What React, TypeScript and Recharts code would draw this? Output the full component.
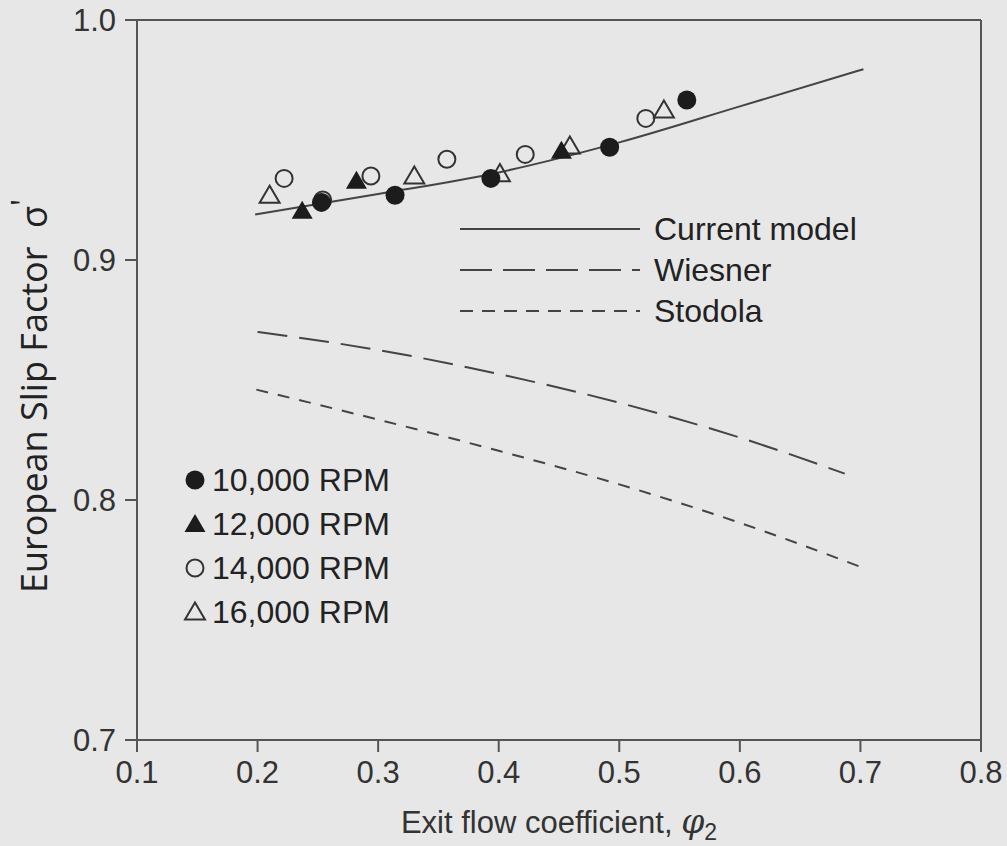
import React from 'react';
import { ComposedChart, Line, Scatter, XAxis, YAxis, ReferenceLine } from 'recharts';

const xTicks = [0.1, 0.2, 0.3, 0.4, 0.5, 0.6, 0.7, 0.8];
const yTicks = [0.7, 0.8, 0.9, 1.0];

const currentModel = [
  { x: 0.198, y: 0.919 },
  { x: 0.3, y: 0.9275 },
  { x: 0.4, y: 0.9365 },
  { x: 0.5, y: 0.949 },
  { x: 0.6, y: 0.964 },
  { x: 0.7025, y: 0.9795 },
];
const wiesner = [
  { x: 0.2, y: 0.870 },
  { x: 0.3, y: 0.8625 },
  { x: 0.4, y: 0.8525 },
  { x: 0.5, y: 0.8405 },
  { x: 0.6, y: 0.826 },
  { x: 0.687, y: 0.811 },
];
const stodola = [
  { x: 0.199, y: 0.846 },
  { x: 0.3, y: 0.8335 },
  { x: 0.4, y: 0.8205 },
  { x: 0.5, y: 0.8065 },
  { x: 0.6, y: 0.7905 },
  { x: 0.7035, y: 0.7715 },
];
const rpm10000 = [
  { x: 0.253, y: 0.924 },
  { x: 0.314, y: 0.927 },
  { x: 0.3935, y: 0.934 },
  { x: 0.492, y: 0.947 },
  { x: 0.556, y: 0.9667 },
];
const rpm12000 = [
  { x: 0.237, y: 0.9205 },
  { x: 0.282, y: 0.933 },
  { x: 0.452, y: 0.9455 },
];
const rpm14000 = [
  { x: 0.222, y: 0.934 },
  { x: 0.254, y: 0.925 },
  { x: 0.294, y: 0.935 },
  { x: 0.357, y: 0.942 },
  { x: 0.422, y: 0.944 },
  { x: 0.522, y: 0.959 },
];
const rpm16000 = [
  { x: 0.21, y: 0.927 },
  { x: 0.33, y: 0.935 },
  { x: 0.401, y: 0.936 },
  { x: 0.459, y: 0.9475 },
  { x: 0.537, y: 0.9625 },
];

const lineLegend = [
  { name: 'Current model', dash: undefined as string | undefined },
  { name: 'Wiesner', dash: '32 11' },
  { name: 'Stodola', dash: '13 9' },
];
const markerLegend = ['10,000 RPM', '12,000 RPM', '14,000 RPM', '16,000 RPM'];

const INK = '#1c1c1c';
const LINE = '#444';
const AXIS = '#555';
const BG = '#e7e7e7';
const FONT = '"Liberation Sans", Arial, sans-serif';

const FilledCircle = (p: any) => <circle cx={p.cx} cy={p.cy} r={9.5} fill={INK} />;
const OpenCircle = (p: any) => <circle cx={p.cx} cy={p.cy} r={8.5} fill="none" stroke="#333" strokeWidth={2} />;
const triPts = (cx: number, cy: number, s: number) =>
  `${cx},${cy - s} ${cx - s * 1.05},${cy + s * 0.8} ${cx + s * 1.05},${cy + s * 0.8}`;
const FilledTri = (p: any) => <polygon points={triPts(p.cx, p.cy, 10)} fill={INK} />;
const OpenTri = (p: any) => (
  <polygon points={triPts(p.cx, p.cy, 9.5)} fill="none" stroke="#333" strokeWidth={2} strokeLinejoin="miter" />
);

const markerShapes = [FilledCircle, FilledTri, OpenCircle, OpenTri];

const XTitle = (props: any) => {
  const vb = props.viewBox || {};
  const cx = vb.x + vb.width / 2;
  return (
    <text x={cx} y={vb.y + 93} textAnchor="middle" fill="#333" fontSize={31} fontFamily={FONT}>
      Exit flow coefficient,{' '}
      <tspan fontStyle="italic" fontSize={33} fontFamily='"DejaVu Serif", serif'>φ</tspan>
      <tspan fontSize={23} dy={7}>2</tspan>
    </text>
  );
};

const YTitle = (props: any) => {
  const vb = props.viewBox || {};
  const x = 47;
  const y = vb.y + vb.height / 2 + 16;
  return (
    <text
      x={x}
      y={y}
      transform={`rotate(-90, ${x}, ${y})`}
      textAnchor="middle"
      fill="#222"
      fontSize={36}
      fontFamily='"Open Sans", sans-serif'
    >
      European Slip Factor{'\u00a0\u00a0'}σ
      <tspan dy={-12} fontSize={32}>'</tspan>
    </text>
  );
};

export default function App() {
  return (
    <div style={{ position: 'absolute', left: 0, top: 0, width: 1007, height: 846, background: BG }}>
      <ComposedChart
        width={1007}
        height={846}
        margin={{ top: 20, right: 26, left: 0, bottom: 0 }}
      >
        <XAxis
          type="number"
          dataKey="x"
          domain={[0.1, 0.8]}
          ticks={xTicks}
          allowDataOverflow
          height={106}
          tickSize={12}
          tickMargin={9}
          stroke={AXIS}
          strokeWidth={2}
          tick={{ fill: '#333', fontSize: 31, fontFamily: FONT }}
          tickFormatter={(v: number) => v.toFixed(1)}
          label={<XTitle />}
        />
        <YAxis
          type="number"
          dataKey="y"
          domain={[0.7, 1.0]}
          ticks={yTicks}
          allowDataOverflow
          width={137}
          tickSize={12}
          tickMargin={9}
          stroke={AXIS}
          strokeWidth={2}
          tick={{ fill: '#333', fontSize: 31, fontFamily: FONT }}
          tickFormatter={(v: number) => v.toFixed(1)}
          label={<YTitle />}
        />
        <ReferenceLine y={1.0} stroke={AXIS} strokeWidth={2} />
        <ReferenceLine x={0.8} stroke={AXIS} strokeWidth={2} />
        <Line data={currentModel} dataKey="y" type="monotone" stroke={LINE} strokeWidth={2} dot={false} isAnimationActive={false} />
        <Line data={wiesner} dataKey="y" type="monotone" stroke={LINE} strokeWidth={2} strokeDasharray="30 12" dot={false} isAnimationActive={false} />
        <Line data={stodola} dataKey="y" type="monotone" stroke={LINE} strokeWidth={2} strokeDasharray="12 10" dot={false} isAnimationActive={false} />
        <Scatter data={rpm16000} dataKey="y" shape={OpenTri} isAnimationActive={false} />
        <Scatter data={rpm14000} dataKey="y" shape={OpenCircle} isAnimationActive={false} />
        <Scatter data={rpm12000} dataKey="y" shape={FilledTri} isAnimationActive={false} />
        <Scatter data={rpm10000} dataKey="y" shape={FilledCircle} isAnimationActive={false} />
      </ComposedChart>

      <svg style={{ position: 'absolute', left: 0, top: 0, pointerEvents: 'none' }} width={1007} height={846}>
        {lineLegend.map((item, i) => (
          <g key={item.name}>
            <line x1={460} x2={640} y1={229 + i * 41} y2={229 + i * 41} stroke={LINE} strokeWidth={2} strokeDasharray={item.dash} />
            <text x={654} y={229 + i * 41 + 11} fontSize={32} fontFamily={FONT} fill="#222">
              {item.name}
            </text>
          </g>
        ))}
        {markerLegend.map((name, i) => {
          const Shape = markerShapes[i];
          const cy = 480 + i * 44;
          return (
            <g key={name}>
              <Shape cx={195} cy={cy} />
              <text x={212} y={cy + 11} fontSize={32} fontFamily={FONT} fill="#222">
                {name}
              </text>
            </g>
          );
        })}
      </svg>
    </div>
  );
}
